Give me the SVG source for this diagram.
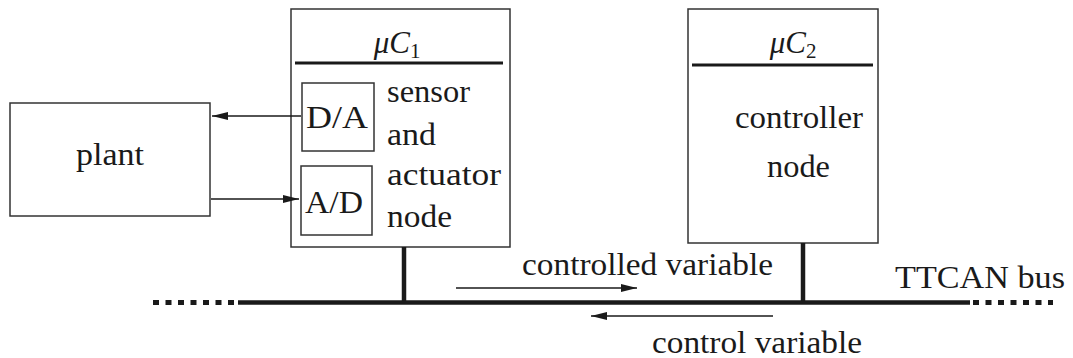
<svg xmlns="http://www.w3.org/2000/svg" width="1073" height="358" viewBox="0 0 1073 358">
<style>
.box{fill:#fff;stroke:#333;stroke-width:1.5}
.hdr{stroke:#1a1a1a;stroke-width:3}
.t{font-family:'Liberation Serif','DejaVu Serif','Times New Roman',serif;font-size:31px;fill:#1a1a1a}
.it{font-style:italic}
.sub{font-size:21px}
.arr{stroke:#1a1a1a;stroke-width:1.5;fill:none;marker-end:url(#ah)}
.bus{stroke:#1a1a1a;stroke-width:4.5;fill:none}
.dot{stroke:#1a1a1a;stroke-width:5;fill:none;stroke-dasharray:6 6.5}
</style>
<defs>
<marker id="ah" viewBox="0 0 16 8" refX="16" refY="4" markerWidth="16" markerHeight="8" markerUnits="userSpaceOnUse" orient="auto">
<path d="M0,0 L16,4 L0,8 Z" fill="#1a1a1a"/>
</marker>
</defs>
<g id="plant">
<rect class="box" x="10" y="103" width="200" height="113"/>
<text class="t" x="76" y="165" textLength="68" lengthAdjust="spacingAndGlyphs">plant</text>
</g>
<g id="uC1">
<rect class="box" x="291" y="9" width="219" height="238"/>
<line class="hdr" x1="295" y1="63" x2="503" y2="63"/>
<text class="t" x="397" y="53" text-anchor="middle"><tspan class="it">μC</tspan><tspan class="sub" dy="5">1</tspan></text>
<text class="t" x="387" y="102" textLength="83" lengthAdjust="spacingAndGlyphs">sensor</text>
<text class="t" x="387" y="145" textLength="49" lengthAdjust="spacingAndGlyphs">and</text>
<text class="t" x="387" y="185" textLength="114" lengthAdjust="spacingAndGlyphs">actuator</text>
<text class="t" x="387" y="227" textLength="65" lengthAdjust="spacingAndGlyphs">node</text>
</g>
<g id="DA">
<rect class="box" x="302" y="83" width="72" height="68"/>
<text class="t" x="306" y="128" textLength="62" lengthAdjust="spacingAndGlyphs">D/A</text>
</g>
<g id="AD">
<rect class="box" x="301" y="166" width="71" height="69"/>
<text class="t" x="305" y="213" textLength="58" lengthAdjust="spacingAndGlyphs">A/D</text>
</g>
<g id="uC2">
<rect class="box" x="688" y="9" width="190" height="234"/>
<line class="hdr" x1="692" y1="65" x2="873" y2="65"/>
<text class="t" x="793" y="53" text-anchor="middle"><tspan class="it">μC</tspan><tspan class="sub" dy="5">2</tspan></text>
<text class="t" x="735" y="128" textLength="128" lengthAdjust="spacingAndGlyphs">controller</text>
<text class="t" x="767" y="177" textLength="63" lengthAdjust="spacingAndGlyphs">node</text>
</g>
<g id="bus">
<line class="bus" x1="238" y1="302.5" x2="970" y2="302.5"/>
<line class="dot" x1="153" y1="302.5" x2="237" y2="302.5"/>
<line class="dot" x1="973" y1="302.5" x2="1053" y2="302.5"/>
<text class="t" x="895" y="288" textLength="170" lengthAdjust="spacingAndGlyphs">TTCAN bus</text>
</g>
<g id="connectors">
<line class="arr" x1="301" y1="116" x2="212" y2="116"/>
<line class="arr" x1="211" y1="199" x2="299" y2="199"/>
<line class="bus" x1="404" y1="247" x2="404" y2="301"/>
<line class="bus" x1="803" y1="243" x2="803" y2="301"/>
<line class="arr" x1="456" y1="288" x2="637" y2="288"/>
<line class="arr" x1="773" y1="316" x2="591" y2="316"/>
<text class="t" x="522" y="275" textLength="251" lengthAdjust="spacingAndGlyphs">controlled variable</text>
<text class="t" x="652" y="353" textLength="210" lengthAdjust="spacingAndGlyphs">control variable</text>
</g>
</svg>
